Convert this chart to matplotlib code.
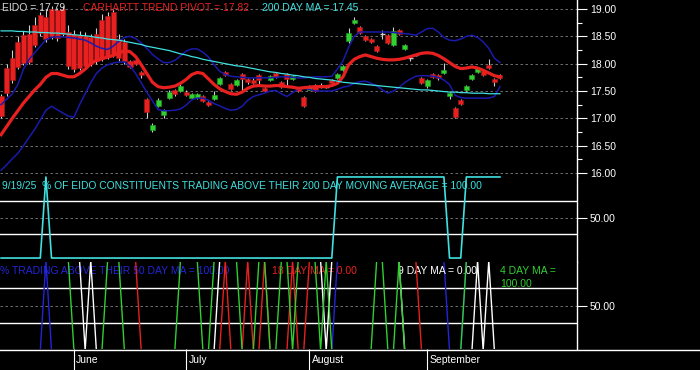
import numpy as np
import matplotlib
matplotlib.use("Agg")
import matplotlib.pyplot as plt
from matplotlib.lines import Line2D
from matplotlib.transforms import blended_transform_factory

# ---- data (one value per trading day, 13 May .. 19 Sep 2025) ----
# candles: open, close, high, low
c_open = [17.40, 17.92, 18.10, 18.40, 18.52, 18.55, 18.70, 18.89, 18.85, 19.00,
          18.98, 19.00, 18.58, 18.55, 18.52, 18.50, 18.48, 18.55, 18.80, 18.88,
          18.95, 18.45, 18.40, 18.04, 18.07, 17.85, 17.35, 16.79, 17.23, 17.06,
          17.37, 17.52, 17.50, 17.49, 17.37, 17.38, 17.40, 17.29, 17.35, 17.63,
          17.85, 17.63, 17.61, 17.81, 17.72, 17.71, 17.79, 17.55, 17.70, 17.83,
          17.66, 17.81, 17.72, 17.55, 17.39, 17.52, 17.60, 17.60, 17.58, 17.70,
          17.74, 17.88, 18.41, 18.74, 18.67, 18.50, 18.45, 18.32, 18.54, 18.52,
          18.34, 18.62, 18.27, 18.10, 18.16, 17.74, 17.59, 17.81, 17.79, 17.83,
          17.40, 17.19, 17.34, 17.52, 17.72, 17.85, 17.87, 17.98, 17.72, 17.79]
c_close = [17.05, 17.46, 17.70, 17.94, 18.01, 18.03, 18.35, 18.56, 18.45, 18.50,
           18.47, 18.55, 17.95, 17.90, 17.92, 17.95, 18.00, 18.05, 18.10, 18.12,
           18.18, 18.10, 18.05, 17.94, 17.99, 17.79, 17.12, 16.87, 17.34, 17.15,
           17.49, 17.45, 17.60, 17.43, 17.45, 17.45, 17.32, 17.24, 17.43, 17.74,
           17.79, 17.54, 17.70, 17.72, 17.67, 17.64, 17.70, 17.50, 17.77, 17.76,
           17.57, 17.72, 17.77, 17.50, 17.23, 17.59, 17.50, 17.60, 17.58, 17.64,
           17.81, 17.96, 18.56, 18.80, 18.56, 18.43, 18.39, 18.24, 18.54, 18.38,
           18.59, 18.54, 18.34, 18.10, 18.16, 17.65, 17.70, 17.76, 17.73, 17.88,
           17.47, 17.02, 17.26, 17.59, 17.79, 17.92, 17.79, 17.92, 17.66, 17.74]
c_high = [17.45, 18.00, 18.25, 18.50, 18.60, 18.70, 18.85, 18.95, 19.00, 19.05,
          19.02, 19.05, 18.70, 18.62, 18.60, 18.58, 18.55, 18.65, 18.90, 18.95,
          19.00, 18.55, 18.45, 18.06, 18.09, 17.87, 17.37, 16.92, 17.37, 17.17,
          17.51, 17.54, 17.62, 17.51, 17.47, 17.47, 17.42, 17.31, 17.50, 17.76,
          17.87, 17.65, 17.72, 17.83, 17.74, 17.73, 17.82, 17.57, 17.79, 17.85,
          17.68, 17.83, 17.79, 17.57, 17.41, 17.61, 17.62, 17.64, 17.60, 17.72,
          17.83, 17.98, 18.65, 18.85, 18.69, 18.52, 18.47, 18.34, 18.62, 18.54,
          18.68, 18.64, 18.36, 18.13, 18.18, 17.76, 17.72, 17.83, 17.81, 18.02,
          17.49, 17.21, 17.36, 17.61, 17.81, 17.94, 17.89, 18.09, 17.74, 17.81]
c_low = [17.00, 17.40, 17.65, 17.90, 17.98, 18.00, 18.30, 18.50, 18.40, 18.45,
         18.42, 18.50, 17.90, 17.85, 17.88, 17.90, 17.95, 18.00, 18.05, 18.08,
         18.12, 18.05, 18.00, 17.92, 17.97, 17.74, 17.00, 16.75, 17.20, 17.00,
         17.35, 17.40, 17.48, 17.41, 17.35, 17.36, 17.30, 17.22, 17.33, 17.61,
         17.77, 17.52, 17.59, 17.48, 17.62, 17.62, 17.62, 17.48, 17.68, 17.74,
         17.55, 17.60, 17.70, 17.48, 17.20, 17.51, 17.48, 17.56, 17.56, 17.62,
         17.72, 17.86, 18.38, 18.72, 18.54, 18.41, 18.37, 18.22, 18.45, 18.36,
         18.32, 18.52, 18.25, 18.04, 18.14, 17.63, 17.55, 17.74, 17.71, 17.81,
         17.35, 17.00, 17.24, 17.50, 17.70, 17.83, 17.77, 17.90, 17.59, 17.72]

trend_pivot = [16.70, 16.85, 17.00, 17.14, 17.28, 17.40, 17.52, 17.62, 17.75, 17.82,
               17.82, 17.79, 17.76, 17.76, 17.82, 17.90, 18.00, 18.06, 18.09, 18.12,
               18.15, 18.19, 18.24, 18.22, 18.13, 17.98, 17.82, 17.66, 17.58, 17.56,
               17.57, 17.59, 17.64, 17.71, 17.80, 17.84, 17.82, 17.72, 17.62, 17.54,
               17.49, 17.45, 17.44, 17.48, 17.55, 17.59, 17.60, 17.59, 17.59, 17.60,
               17.60, 17.58, 17.57, 17.55, 17.56, 17.57, 17.58, 17.58, 17.58, 17.60,
               17.64, 17.76, 17.98, 18.08, 18.13, 18.16, 18.13, 18.10, 18.08, 18.07,
               18.07, 18.08, 18.10, 18.13, 18.16, 18.19, 18.20, 18.19, 18.15, 18.09,
               18.02, 17.95, 17.91, 17.92, 17.94, 17.92, 17.88, 17.83, 17.78, 17.76]
ma200 = [18.60, 18.60, 18.60, 18.59, 18.59, 18.58, 18.58, 18.57, 18.57, 18.56,
         18.56, 18.55, 18.54, 18.53, 18.52, 18.51, 18.50, 18.48, 18.47, 18.45,
         18.44, 18.43, 18.41, 18.39, 18.37, 18.35, 18.32, 18.30, 18.28, 18.26,
         18.24, 18.21, 18.18, 18.16, 18.13, 18.11, 18.08, 18.06, 18.04, 18.02,
         18.00, 17.98, 17.96, 17.95, 17.93, 17.91, 17.89, 17.87, 17.85, 17.84,
         17.82, 17.81, 17.79, 17.78, 17.76, 17.75, 17.73, 17.72, 17.71, 17.70,
         17.68, 17.66, 17.65, 17.64, 17.63, 17.62, 17.61, 17.60, 17.59, 17.58,
         17.57, 17.56, 17.55, 17.54, 17.53, 17.52, 17.52, 17.51, 17.50, 17.49,
         17.48, 17.48, 17.47, 17.47, 17.46, 17.46, 17.46, 17.45, 17.45, 17.45]
band_up = [17.25, 17.35, 17.45, 17.62, 17.90, 18.08, 18.20, 18.32, 18.44, 18.48,
           18.49, 18.49, 18.48, 18.47, 18.45, 18.43, 18.38, 18.32, 18.28, 18.26,
           18.32, 18.41, 18.48, 18.50, 18.46, 18.38, 18.28, 18.17, 18.09, 18.02,
           18.02, 18.06, 18.14, 18.23, 18.27, 18.27, 18.21, 18.12, 17.98, 17.86,
           17.80, 17.77, 17.76, 17.75, 17.74, 17.74, 17.74, 17.74, 17.74, 17.75,
           17.76, 17.76, 17.75, 17.74, 17.74, 17.75, 17.76, 17.76, 17.76, 17.77,
           17.90, 18.05, 18.30, 18.50, 18.58, 18.58, 18.58, 18.58, 18.58, 18.58,
           18.57, 18.56, 18.55, 18.54, 18.52, 18.58, 18.64, 18.65, 18.58, 18.48,
           18.43, 18.42, 18.45, 18.50, 18.52, 18.48, 18.40, 18.28, 18.10, 18.02]
band_lo = [16.05, 16.15, 16.26, 16.36, 16.50, 16.65, 16.80, 16.97, 17.15, 17.22,
           17.16, 17.10, 17.04, 17.02, 17.25, 17.45, 17.65, 17.82, 17.92, 17.98,
           18.01, 18.03, 18.03, 17.96, 17.82, 17.65, 17.48, 17.32, 17.16, 17.14,
           17.14, 17.15, 17.17, 17.24, 17.34, 17.37, 17.37, 17.33, 17.27, 17.23,
           17.18, 17.15, 17.16, 17.22, 17.33, 17.40, 17.43, 17.46, 17.50, 17.51,
           17.45, 17.40, 17.47, 17.53, 17.55, 17.53, 17.50, 17.50, 17.50, 17.50,
           17.53, 17.57, 17.59, 17.64, 17.67, 17.68, 17.64, 17.60, 17.52, 17.46,
           17.50, 17.57, 17.65, 17.72, 17.77, 17.78, 17.78, 17.77, 17.75, 17.70,
           17.62, 17.42, 17.38, 17.37, 17.37, 17.37, 17.37, 17.37, 17.40, 17.58]

# % of constituents above MA (0 / 100)
pct200 = [0]*8 + [100] + [0]*51 + [100]*20 + [0]*3 + [100]*7
pct50 = [0]*8 + [100] + [0]*51 + [100]*20 + [0]*3 + [100]*7
ma18 = [100]*25 + [0]*15 + [100] + [0]*3 + [100] + [0]*2 + [100] + [0]*4 + [100] + [0]*2 + [100]*20 + [0]*15
ma9 = [100]*15 + [0] + [100] + [0]*22 + [100]*19 + [0] + [100]*13 + [0]*13 + [100] + [0] + [100] + [0]*2
ma4 = ([100]*13 + [0]*6 + [100]*3 + [0]*10 + [100]*4 + [0]*2 + [100]*5 + [0]*3 + [100]*2 + [0]*2
       + [100]*2 + [0] + [100]*4 + [0] + [100] + [0]*8 + [100]*2 + [0]*2 + [100] + [0]*11 + [100]*7)

month_names = ["June", "July", "August", "September"]
month_start = [13, 33, 55, 76]

# ---- colours ----
BG = "black"
RED = "#e82020"
GREEN = "#30d030"
CYAN = "#40e0e0"
NAVY = "#1a1aac"
BLUE = "#2424d8"
GRID = "#808080"
FONT = ["Liberation Sans", "DejaVu Sans"]
plt.rcParams['font.family'] = FONT

x = np.arange(len(c_open))
W, H = 700.0, 370.0
fig = plt.figure(figsize=(7, 3.7), dpi=100, facecolor=BG)
ax1 = fig.add_axes([0, (H-176)/H, 577/W, 176/H])
ax2 = fig.add_axes([0, (H-262)/H, 577/W, 86/H])
ax3 = fig.add_axes([0, (H-349)/H, 577/W, 87/H])

for ax in (ax1, ax2, ax3):
	ax.set_facecolor(BG)
	ax.set_xlim(-0.19, 102.74)
	for s in ("top", "left", "bottom"):
		ax.spines[s].set_visible(False)
	ax.spines["right"].set_color("white")
	ax.spines["right"].set_linewidth(1.0)
	ax.yaxis.tick_right()
	ax.tick_params(axis="y", colors="white", labelsize=7.5, length=7.2, width=0.8, pad=2.2)
	ax.tick_params(axis="x", bottom=False, labelbottom=False)

# ---- price panel ----
ax1.set_ylim(15.945, 19.165)
ax1.set_yticks(np.arange(16.0, 19.01, 0.5))
ax1.set_yticks(np.arange(16.25, 19.0, 0.5), minor=True)
ax1.yaxis.set_major_formatter(plt.FormatStrFormatter("%.2f"))
ax1.tick_params(axis="y", which="minor", colors="white", length=3.6, width=0.8)
for lv in ax1.get_yticks():
	ax1.axhline(lv, color=GRID, lw=0.6, ls=(0, (3, 3)), zorder=1)

o = np.array(c_open); c = np.array(c_close)
up = c > o
dn = c < o
eq = c == o
ax1.vlines(x, c_low, c_high, color="#d0d0d0", lw=0.8, zorder=2)
ax1.bar(x[up], (c-o)[up], bottom=o[up], width=0.9, color=GREEN, edgecolor="#20a020", lw=0.4, zorder=3)
ax1.bar(x[dn], (o-c)[dn], bottom=c[dn], width=0.9, color=RED, edgecolor="#a01818", lw=0.4, zorder=3)
ax1.hlines(o[eq], x[eq]-0.45, x[eq]+0.45, color="#d0d0d0", lw=1.0, zorder=3)

ax1.plot(x, band_up, color=NAVY, lw=1.1, zorder=4)
ax1.plot(x, band_lo, color=NAVY, lw=1.1, zorder=4)
ax1.plot(x, trend_pivot, color=RED, lw=2.3, zorder=5)
ax1.plot(x, ma200, color=CYAN, lw=0.9, zorder=6)

ax1.text(0.003, 0.985, "EIDO = 17.79", color="#d8d8d8", fontsize=7.5, transform=ax1.transAxes, va="top")
ax1.text(83/577, 0.985, "CARHARTT TREND PIVOT = 17.82", color=RED, fontsize=7.5, transform=ax1.transAxes, va="top")
ax1.text(262/577, 0.985, "200 DAY MA = 17.45", color=CYAN, fontsize=7.5, transform=ax1.transAxes, va="top")

# ---- % above 200 day panel ----
ax2.set_ylim(-4.9, 101.2)
ax2.set_yticks([50])
ax2.yaxis.set_major_formatter(plt.FormatStrFormatter("%.2f"))
ax2.axhline(50, color=GRID, lw=0.6, ls=(0, (3, 3)))
ax2.axhline(70, color="white", lw=1.0)
ax2.axhline(30, color="white", lw=1.0)
ax2.plot(x, pct200, color=CYAN, lw=1.2, zorder=3)
ax2.text(0.003, 0.94, "9/19/25  % OF EIDO CONSTITUENTS TRADING ABOVE THEIR 200 DAY MOVING AVERAGE = 100.00",
	color=CYAN, fontsize=7.4, transform=ax2.transAxes, va="top", family=["Liberation Sans Narrow", "Liberation Sans"])

# ---- short term MA panel ----
ax3.set_ylim(1.5, 98.5)
ax3.set_yticks([50])
ax3.yaxis.set_major_formatter(plt.FormatStrFormatter("%.2f"))
ax3.axhline(50, color=GRID, lw=0.6, ls=(0, (3, 3)))
ax3.axhline(70, color="white", lw=1.0)
ax3.axhline(30, color="white", lw=1.0)
ax3.plot(x, pct50, color=BLUE, lw=1.0, zorder=3)
ax3.plot(x, ma18, color=RED, lw=1.0, zorder=4)
ax3.plot(x, ma9, color="white", lw=1.0, zorder=5)
ax3.plot(x, ma4, color=GREEN, lw=1.0, zorder=6)
ax3.text(0.0, 0.95, "% TRADING ABOVE THEIR 50 DAY MA = 100.00", color=BLUE, fontsize=7.5, transform=ax3.transAxes, va="top")
ax3.text(272/577, 0.95, "18 DAY MA = 0.00", color=RED, fontsize=7.5, transform=ax3.transAxes, va="top")
ax3.text(398/577, 0.95, "9 DAY MA = 0.00", color="white", fontsize=7.5, transform=ax3.transAxes, va="top")
ax3.text(500/577, 0.95, "4 DAY MA =\n100.00", color=GREEN, fontsize=7.5, transform=ax3.transAxes, va="top", linespacing=1.3)

# month separators below the last panel
ax3.set_xticks(month_start)
ax3.tick_params(axis="x", bottom=True, labelbottom=False, direction="out", length=15, width=0.8, color="white")
trans = blended_transform_factory(ax3.transData, ax3.transAxes)
for m, name in zip(month_start, month_names):
	ax3.text(m + 0.4, -0.13, name, color="white", fontsize=7.5, transform=trans, va="center", ha="left")

fig.add_artist(Line2D([0, 1], [(H-350)/H, (H-350)/H], color="white", lw=1.0, transform=fig.transFigure))

fig.savefig("out.png", dpi=100, facecolor=BG)
